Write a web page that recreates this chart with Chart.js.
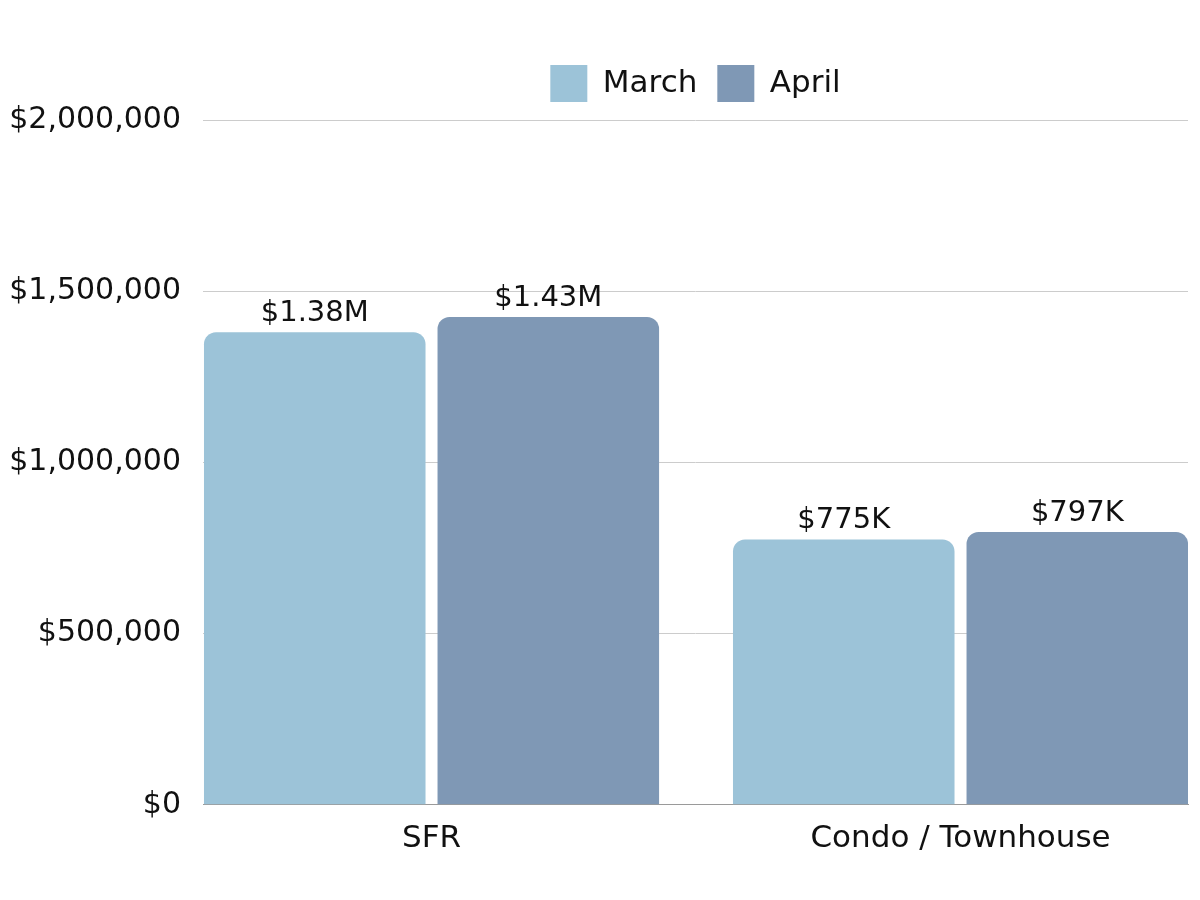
<!DOCTYPE html>
<html>
<head>
<meta charset="utf-8">
<script src="https://cdn.jsdelivr.net/npm/chart.js@4.4.1/dist/chart.umd.min.js"></script>
<style>
  html, body { margin: 0; padding: 0; background: #fff; }
  #wrap { width: 1200px; height: 900px; }
</style>
</head>
<body>
<div id="wrap"><canvas id="priceChart"></canvas></div>
<script>
// ===== Data =====
const categories = ['SFR', 'Condo / Townhouse'];
const seriesNames = ['March', 'April'];
const marchValues = [1380000, 775000];
const aprilValues = [1425000, 797000];
const marchText = ['$1.38M', '$775K'];
const aprilText = ['$1.43M', '$797K'];
const yTickValues = [0, 500000, 1000000, 1500000, 2000000];

const FONT = '"DejaVu Sans", sans-serif';

// Draw value text above each bar
const valueLabels = {
    id: 'valueLabels',
    afterDatasetsDraw(chart) {
        const ctx = chart.ctx;
        ctx.save();
        ctx.font = '29px ' + FONT;
        ctx.fillStyle = '#111';
        ctx.textAlign = 'center';
        ctx.textBaseline = 'alphabetic';
        chart.data.datasets.forEach((ds, i) => {
            chart.getDatasetMeta(i).data.forEach((bar, j) => {
                ctx.fillText(ds.valueText[j], bar.x, bar.y - 11);
            });
        });
        ctx.restore();
    }
};

// Extra space under the legend
const legendGap = {
    id: 'legendGap',
    beforeInit(chart) {
        const origFit = chart.legend.fit;
        chart.legend.fit = function () {
            origFit.bind(chart.legend)();
            this.height += 8;
        };
    }
};

const toPoints = (vals) => vals.map((v, i) => ({ x: i, y: v }));

new Chart(document.getElementById('priceChart').getContext('2d'), {
    type: 'bar',
    data: {
        datasets: [{
            label: seriesNames[0],
            data: toPoints(marchValues),
            valueText: marchText,
            backgroundColor: '#9cc3d8',
            borderRadius: 12,
            borderSkipped: 'start'
        }, {
            label: seriesNames[1],
            data: toPoints(aprilValues),
            valueText: aprilText,
            backgroundColor: '#7f98b5',
            borderRadius: 12,
            borderSkipped: 'start'
        }]
    },
    options: {
        responsive: true,
        maintainAspectRatio: false,
        animation: false,
        categoryPercentage: 0.883,
        barPercentage: 0.9486,
        layout: {
            padding: { top: 45, right: 12, bottom: 34, left: 0 }
        },
        plugins: {
            legend: {
                position: 'top',
                fullSize: false,
                labels: {
                    color: '#111',
                    font: { family: FONT, size: 31 },
                    boxWidth: 37,
                    boxHeight: 37,
                    padding: 20
                }
            },
            tooltip: { enabled: false }
        },
        scales: {
            x: {
                type: 'linear',
                offset: false,
                min: -0.432,
                max: 1.430,
                afterBuildTicks: (scale) => {
                    scale.ticks = categories.map((c, i) => ({ value: i }));
                },
                ticks: {
                    color: '#111',
                    font: { family: FONT, size: 31 },
                    padding: 8,
                    callback: (v) => categories[v]
                },
                grid: { display: false },
                border: { color: '#9a9a9a', width: 1 }
            },
            y: {
                min: 0,
                max: 2000000,
                afterBuildTicks: (scale) => {
                    scale.ticks = yTickValues.map(v => ({ value: v }));
                },
                afterFit: (scale) => { scale.width = 203; },
                ticks: {
                    color: '#111',
                    font: { family: FONT, size: 30 },
                    padding: 22,
                    callback: (v) => '$' + v.toLocaleString('en-US')
                },
                grid: { color: '#cccccc', drawTicks: false },
                border: { display: false }
            }
        }
    },
    plugins: [valueLabels, legendGap]
});
</script>
</body>
</html>
